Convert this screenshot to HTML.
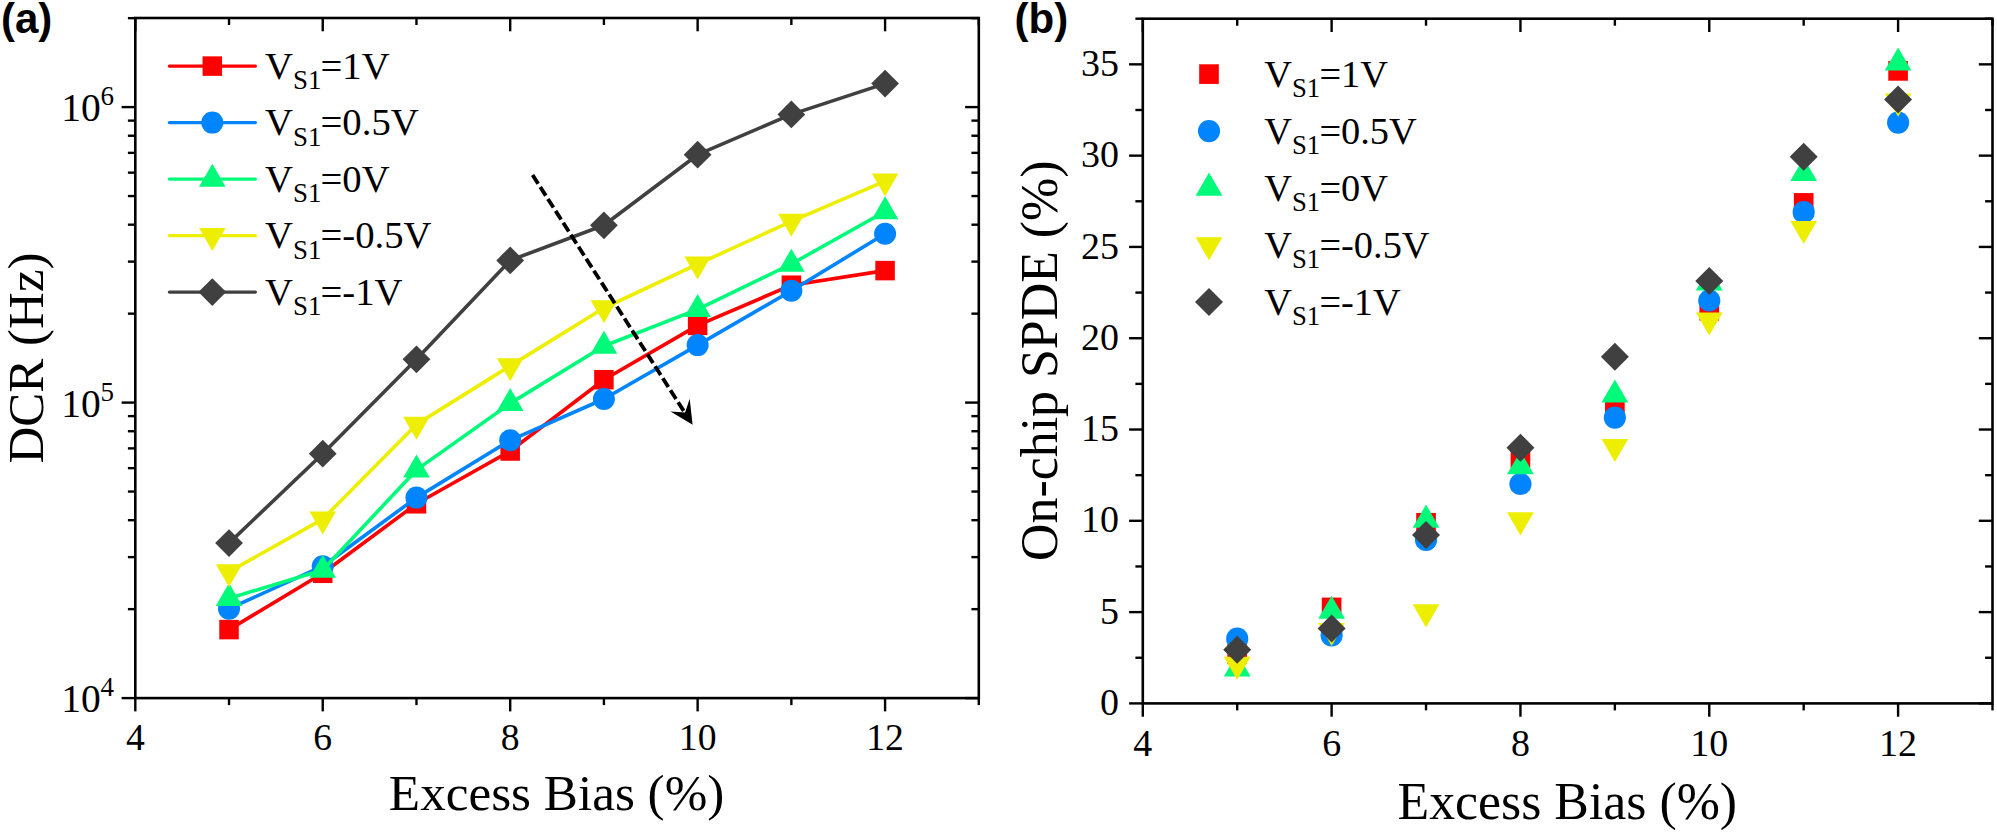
<!DOCTYPE html>
<html lang="en"><head><meta charset="utf-8"><title>DCR and SPDE vs Excess Bias</title>
<style>html,body{margin:0;padding:0;background:#fff;}svg{display:block;}</style></head>
<body>
<svg width="1997" height="834" viewBox="0 0 1997 834">
<rect width="1997" height="834" fill="#fff"/>
<polyline points="229.02,629.60 322.74,573.30 416.47,503.80 510.19,451.00 603.91,379.70 697.63,325.40 791.36,285.20 885.08,270.60" fill="none" stroke="#ff0000" stroke-width="3.6" stroke-linejoin="round" stroke-linecap="round"/>
<rect x="219.27" y="619.85" width="19.50" height="19.50" fill="#ff0000"/>
<rect x="312.99" y="563.55" width="19.50" height="19.50" fill="#ff0000"/>
<rect x="406.72" y="494.05" width="19.50" height="19.50" fill="#ff0000"/>
<rect x="500.44" y="441.25" width="19.50" height="19.50" fill="#ff0000"/>
<rect x="594.16" y="369.95" width="19.50" height="19.50" fill="#ff0000"/>
<rect x="687.88" y="315.65" width="19.50" height="19.50" fill="#ff0000"/>
<rect x="781.61" y="275.45" width="19.50" height="19.50" fill="#ff0000"/>
<rect x="875.33" y="260.85" width="19.50" height="19.50" fill="#ff0000"/>
<polyline points="229.02,608.70 322.74,566.20 416.47,497.60 510.19,440.30 603.91,399.00 697.63,345.10 791.36,290.80 885.08,233.70" fill="none" stroke="#0085ff" stroke-width="3.6" stroke-linejoin="round" stroke-linecap="round"/>
<circle cx="229.02" cy="608.70" r="11.00" fill="#0085ff"/>
<circle cx="322.74" cy="566.20" r="11.00" fill="#0085ff"/>
<circle cx="416.47" cy="497.60" r="11.00" fill="#0085ff"/>
<circle cx="510.19" cy="440.30" r="11.00" fill="#0085ff"/>
<circle cx="603.91" cy="399.00" r="11.00" fill="#0085ff"/>
<circle cx="697.63" cy="345.10" r="11.00" fill="#0085ff"/>
<circle cx="791.36" cy="290.80" r="11.00" fill="#0085ff"/>
<circle cx="885.08" cy="233.70" r="11.00" fill="#0085ff"/>
<polyline points="229.02,598.40 322.74,570.00 416.47,469.90 510.19,403.40 603.91,346.00 697.63,309.40 791.36,264.00 885.08,211.50" fill="none" stroke="#00fa7a" stroke-width="3.6" stroke-linejoin="round" stroke-linecap="round"/>
<polygon points="229.02,583.10 242.32,606.05 215.72,606.05" fill="#00fa7a"/>
<polygon points="322.74,554.70 336.04,577.65 309.44,577.65" fill="#00fa7a"/>
<polygon points="416.47,454.60 429.77,477.55 403.17,477.55" fill="#00fa7a"/>
<polygon points="510.19,388.10 523.49,411.05 496.89,411.05" fill="#00fa7a"/>
<polygon points="603.91,330.70 617.21,353.65 590.61,353.65" fill="#00fa7a"/>
<polygon points="697.63,294.10 710.93,317.05 684.33,317.05" fill="#00fa7a"/>
<polygon points="791.36,248.70 804.66,271.65 778.06,271.65" fill="#00fa7a"/>
<polygon points="885.08,196.20 898.38,219.15 871.78,219.15" fill="#00fa7a"/>
<polyline points="229.02,571.80 322.74,519.10 416.47,424.40 510.19,365.90 603.91,308.00 697.63,264.20 791.36,221.40 885.08,181.10" fill="none" stroke="#eeee00" stroke-width="3.6" stroke-linejoin="round" stroke-linecap="round"/>
<polygon points="229.02,587.10 242.32,564.15 215.72,564.15" fill="#eeee00"/>
<polygon points="322.74,534.40 336.04,511.45 309.44,511.45" fill="#eeee00"/>
<polygon points="416.47,439.70 429.77,416.75 403.17,416.75" fill="#eeee00"/>
<polygon points="510.19,381.20 523.49,358.25 496.89,358.25" fill="#eeee00"/>
<polygon points="603.91,323.30 617.21,300.35 590.61,300.35" fill="#eeee00"/>
<polygon points="697.63,279.50 710.93,256.55 684.33,256.55" fill="#eeee00"/>
<polygon points="791.36,236.70 804.66,213.75 778.06,213.75" fill="#eeee00"/>
<polygon points="885.08,196.40 898.38,173.45 871.78,173.45" fill="#eeee00"/>
<polyline points="229.02,543.10 322.74,453.70 416.47,359.30 510.19,260.40 603.91,225.30 697.63,154.70 791.36,114.40 885.08,83.60" fill="none" stroke="#404040" stroke-width="3.6" stroke-linejoin="round" stroke-linecap="round"/>
<polygon points="229.02,529.20 242.92,543.10 229.02,557.00 215.12,543.10" fill="#404040"/>
<polygon points="322.74,439.80 336.64,453.70 322.74,467.60 308.84,453.70" fill="#404040"/>
<polygon points="416.47,345.40 430.37,359.30 416.47,373.20 402.57,359.30" fill="#404040"/>
<polygon points="510.19,246.50 524.09,260.40 510.19,274.30 496.29,260.40" fill="#404040"/>
<polygon points="603.91,211.40 617.81,225.30 603.91,239.20 590.01,225.30" fill="#404040"/>
<polygon points="697.63,140.80 711.53,154.70 697.63,168.60 683.73,154.70" fill="#404040"/>
<polygon points="791.36,100.50 805.26,114.40 791.36,128.30 777.46,114.40" fill="#404040"/>
<polygon points="885.08,69.70 898.98,83.60 885.08,97.50 871.18,83.60" fill="#404040"/>
<rect x="135.30" y="18.00" width="843.50" height="680.10" fill="none" stroke="#000" stroke-width="2.6"/>
<line x1="135.30" y1="698.10" x2="135.30" y2="711.40" stroke="#000" stroke-width="2.4" />
<line x1="135.30" y1="18.00" x2="135.30" y2="31.30" stroke="#000" stroke-width="2.4" />
<line x1="229.02" y1="698.10" x2="229.02" y2="705.10" stroke="#000" stroke-width="2.4" />
<line x1="229.02" y1="18.00" x2="229.02" y2="25.00" stroke="#000" stroke-width="2.4" />
<line x1="322.74" y1="698.10" x2="322.74" y2="711.40" stroke="#000" stroke-width="2.4" />
<line x1="322.74" y1="18.00" x2="322.74" y2="31.30" stroke="#000" stroke-width="2.4" />
<line x1="416.47" y1="698.10" x2="416.47" y2="705.10" stroke="#000" stroke-width="2.4" />
<line x1="416.47" y1="18.00" x2="416.47" y2="25.00" stroke="#000" stroke-width="2.4" />
<line x1="510.19" y1="698.10" x2="510.19" y2="711.40" stroke="#000" stroke-width="2.4" />
<line x1="510.19" y1="18.00" x2="510.19" y2="31.30" stroke="#000" stroke-width="2.4" />
<line x1="603.91" y1="698.10" x2="603.91" y2="705.10" stroke="#000" stroke-width="2.4" />
<line x1="603.91" y1="18.00" x2="603.91" y2="25.00" stroke="#000" stroke-width="2.4" />
<line x1="697.63" y1="698.10" x2="697.63" y2="711.40" stroke="#000" stroke-width="2.4" />
<line x1="697.63" y1="18.00" x2="697.63" y2="31.30" stroke="#000" stroke-width="2.4" />
<line x1="791.36" y1="698.10" x2="791.36" y2="705.10" stroke="#000" stroke-width="2.4" />
<line x1="791.36" y1="18.00" x2="791.36" y2="25.00" stroke="#000" stroke-width="2.4" />
<line x1="885.08" y1="698.10" x2="885.08" y2="711.40" stroke="#000" stroke-width="2.4" />
<line x1="885.08" y1="18.00" x2="885.08" y2="31.30" stroke="#000" stroke-width="2.4" />
<line x1="978.80" y1="698.10" x2="978.80" y2="705.10" stroke="#000" stroke-width="2.4" />
<line x1="978.80" y1="18.00" x2="978.80" y2="25.00" stroke="#000" stroke-width="2.4" />
<line x1="135.30" y1="698.10" x2="121.60" y2="698.10" stroke="#000" stroke-width="2.4" />
<line x1="978.80" y1="698.10" x2="965.10" y2="698.10" stroke="#000" stroke-width="2.4" />
<line x1="135.30" y1="609.15" x2="127.90" y2="609.15" stroke="#000" stroke-width="2.4" />
<line x1="978.80" y1="609.15" x2="971.40" y2="609.15" stroke="#000" stroke-width="2.4" />
<line x1="135.30" y1="557.11" x2="127.90" y2="557.11" stroke="#000" stroke-width="2.4" />
<line x1="978.80" y1="557.11" x2="971.40" y2="557.11" stroke="#000" stroke-width="2.4" />
<line x1="135.30" y1="520.19" x2="127.90" y2="520.19" stroke="#000" stroke-width="2.4" />
<line x1="978.80" y1="520.19" x2="971.40" y2="520.19" stroke="#000" stroke-width="2.4" />
<line x1="135.30" y1="491.55" x2="127.90" y2="491.55" stroke="#000" stroke-width="2.4" />
<line x1="978.80" y1="491.55" x2="971.40" y2="491.55" stroke="#000" stroke-width="2.4" />
<line x1="135.30" y1="468.16" x2="127.90" y2="468.16" stroke="#000" stroke-width="2.4" />
<line x1="978.80" y1="468.16" x2="971.40" y2="468.16" stroke="#000" stroke-width="2.4" />
<line x1="135.30" y1="448.37" x2="127.90" y2="448.37" stroke="#000" stroke-width="2.4" />
<line x1="978.80" y1="448.37" x2="971.40" y2="448.37" stroke="#000" stroke-width="2.4" />
<line x1="135.30" y1="431.24" x2="127.90" y2="431.24" stroke="#000" stroke-width="2.4" />
<line x1="978.80" y1="431.24" x2="971.40" y2="431.24" stroke="#000" stroke-width="2.4" />
<line x1="135.30" y1="416.12" x2="127.90" y2="416.12" stroke="#000" stroke-width="2.4" />
<line x1="978.80" y1="416.12" x2="971.40" y2="416.12" stroke="#000" stroke-width="2.4" />
<line x1="135.30" y1="402.60" x2="121.60" y2="402.60" stroke="#000" stroke-width="2.4" />
<line x1="978.80" y1="402.60" x2="965.10" y2="402.60" stroke="#000" stroke-width="2.4" />
<line x1="135.30" y1="313.65" x2="127.90" y2="313.65" stroke="#000" stroke-width="2.4" />
<line x1="978.80" y1="313.65" x2="971.40" y2="313.65" stroke="#000" stroke-width="2.4" />
<line x1="135.30" y1="261.61" x2="127.90" y2="261.61" stroke="#000" stroke-width="2.4" />
<line x1="978.80" y1="261.61" x2="971.40" y2="261.61" stroke="#000" stroke-width="2.4" />
<line x1="135.30" y1="224.69" x2="127.90" y2="224.69" stroke="#000" stroke-width="2.4" />
<line x1="978.80" y1="224.69" x2="971.40" y2="224.69" stroke="#000" stroke-width="2.4" />
<line x1="135.30" y1="196.05" x2="127.90" y2="196.05" stroke="#000" stroke-width="2.4" />
<line x1="978.80" y1="196.05" x2="971.40" y2="196.05" stroke="#000" stroke-width="2.4" />
<line x1="135.30" y1="172.66" x2="127.90" y2="172.66" stroke="#000" stroke-width="2.4" />
<line x1="978.80" y1="172.66" x2="971.40" y2="172.66" stroke="#000" stroke-width="2.4" />
<line x1="135.30" y1="152.87" x2="127.90" y2="152.87" stroke="#000" stroke-width="2.4" />
<line x1="978.80" y1="152.87" x2="971.40" y2="152.87" stroke="#000" stroke-width="2.4" />
<line x1="135.30" y1="135.74" x2="127.90" y2="135.74" stroke="#000" stroke-width="2.4" />
<line x1="978.80" y1="135.74" x2="971.40" y2="135.74" stroke="#000" stroke-width="2.4" />
<line x1="135.30" y1="120.62" x2="127.90" y2="120.62" stroke="#000" stroke-width="2.4" />
<line x1="978.80" y1="120.62" x2="971.40" y2="120.62" stroke="#000" stroke-width="2.4" />
<line x1="135.30" y1="107.10" x2="121.60" y2="107.10" stroke="#000" stroke-width="2.4" />
<line x1="978.80" y1="107.10" x2="965.10" y2="107.10" stroke="#000" stroke-width="2.4" />
<line x1="135.30" y1="18.15" x2="127.90" y2="18.15" stroke="#000" stroke-width="2.4" />
<line x1="978.80" y1="18.15" x2="971.40" y2="18.15" stroke="#000" stroke-width="2.4" />
<text x="135.30" y="750.1" text-anchor="middle" font-family="'Liberation Serif','Times New Roman',serif" font-size="37.7" fill="#000">4</text>
<text x="322.74" y="750.1" text-anchor="middle" font-family="'Liberation Serif','Times New Roman',serif" font-size="37.7" fill="#000">6</text>
<text x="510.19" y="750.1" text-anchor="middle" font-family="'Liberation Serif','Times New Roman',serif" font-size="37.7" fill="#000">8</text>
<text x="697.63" y="750.1" text-anchor="middle" font-family="'Liberation Serif','Times New Roman',serif" font-size="37.7" fill="#000">10</text>
<text x="885.08" y="750.1" text-anchor="middle" font-family="'Liberation Serif','Times New Roman',serif" font-size="37.7" fill="#000">12</text>
<text x="61.2" y="712.40" font-family="'Liberation Serif','Times New Roman',serif" font-size="39.5" fill="#000">10<tspan font-size="27" dx="-0.2" dy="-16">4</tspan></text>
<text x="61.2" y="416.90" font-family="'Liberation Serif','Times New Roman',serif" font-size="39.5" fill="#000">10<tspan font-size="27" dx="-0.2" dy="-16">5</tspan></text>
<text x="61.2" y="121.40" font-family="'Liberation Serif','Times New Roman',serif" font-size="39.5" fill="#000">10<tspan font-size="27" dx="-0.2" dy="-16">6</tspan></text>
<text x="556.6" y="810.3" text-anchor="middle" font-family="'Liberation Serif','Times New Roman',serif" font-size="51.2" fill="#000">Excess Bias (%)</text>
<text transform="translate(43,358) rotate(-90)" text-anchor="middle" font-family="'Liberation Serif','Times New Roman',serif" font-size="51" fill="#000">DCR (Hz)</text>
<text x="1.0" y="33.4" font-family="'Liberation Sans',Arial,sans-serif" font-weight="bold" font-size="42" fill="#000">(a)</text>
<line x1="169.4" y1="66.10" x2="255.4" y2="66.10" stroke="#ff0000" stroke-width="3.3" stroke-linecap="round"/>
<rect x="202.55" y="56.35" width="19.50" height="19.50" fill="#ff0000"/>
<text x="265.00" y="78.90" font-family="'Liberation Serif','Times New Roman',serif" font-size="38.7" fill="#000">V<tspan font-size="26.90" dy="10.37">S1</tspan><tspan dy="-10.37" dx="-0.8">=1V</tspan></text>
<line x1="169.4" y1="122.60" x2="255.4" y2="122.60" stroke="#0085ff" stroke-width="3.3" stroke-linecap="round"/>
<circle cx="212.30" cy="122.60" r="11.00" fill="#0085ff"/>
<text x="265.00" y="135.40" font-family="'Liberation Serif','Times New Roman',serif" font-size="38.7" fill="#000">V<tspan font-size="26.90" dy="10.37">S1</tspan><tspan dy="-10.37" dx="-0.8">=0.5V</tspan></text>
<line x1="169.4" y1="179.10" x2="255.4" y2="179.10" stroke="#00fa7a" stroke-width="3.3" stroke-linecap="round"/>
<polygon points="212.30,163.80 225.60,186.75 199.00,186.75" fill="#00fa7a"/>
<text x="265.00" y="191.90" font-family="'Liberation Serif','Times New Roman',serif" font-size="38.7" fill="#000">V<tspan font-size="26.90" dy="10.37">S1</tspan><tspan dy="-10.37" dx="-0.8">=0V</tspan></text>
<line x1="169.4" y1="235.60" x2="255.4" y2="235.60" stroke="#eeee00" stroke-width="3.3" stroke-linecap="round"/>
<polygon points="212.30,250.90 225.60,227.95 199.00,227.95" fill="#eeee00"/>
<text x="265.00" y="248.40" font-family="'Liberation Serif','Times New Roman',serif" font-size="38.7" fill="#000">V<tspan font-size="26.90" dy="10.37">S1</tspan><tspan dy="-10.37" dx="-0.8">=-0.5V</tspan></text>
<line x1="169.4" y1="292.10" x2="255.4" y2="292.10" stroke="#404040" stroke-width="3.3" stroke-linecap="round"/>
<polygon points="212.30,278.20 226.20,292.10 212.30,306.00 198.40,292.10" fill="#404040"/>
<text x="265.00" y="304.90" font-family="'Liberation Serif','Times New Roman',serif" font-size="38.7" fill="#000">V<tspan font-size="26.90" dy="10.37">S1</tspan><tspan dy="-10.37" dx="-0.8">=-1V</tspan></text>
<line x1="532.6" y1="175.0" x2="684.6" y2="412.3" stroke="#000" stroke-width="3.8" stroke-dasharray="10.3 3.9"/>
<polygon points="692.6,424.7 670.5,411.5 685.1,412.6 689.7,398.8" fill="#000"/>
<rect x="1227.39" y="644.18" width="19.64" height="19.64" fill="#ff0000"/>
<rect x="1321.80" y="597.58" width="19.64" height="19.64" fill="#ff0000"/>
<rect x="1416.22" y="512.98" width="19.64" height="19.64" fill="#ff0000"/>
<rect x="1510.63" y="448.18" width="19.64" height="19.64" fill="#ff0000"/>
<rect x="1605.04" y="396.68" width="19.64" height="19.64" fill="#ff0000"/>
<rect x="1699.45" y="300.98" width="19.64" height="19.64" fill="#ff0000"/>
<rect x="1793.86" y="193.08" width="19.64" height="19.64" fill="#ff0000"/>
<rect x="1888.27" y="61.08" width="19.64" height="19.64" fill="#ff0000"/>
<circle cx="1237.21" cy="638.70" r="11.08" fill="#0085ff"/>
<circle cx="1331.62" cy="635.30" r="11.08" fill="#0085ff"/>
<circle cx="1426.03" cy="540.00" r="11.08" fill="#0085ff"/>
<circle cx="1520.44" cy="484.00" r="11.08" fill="#0085ff"/>
<circle cx="1614.86" cy="417.60" r="11.08" fill="#0085ff"/>
<circle cx="1709.27" cy="300.50" r="11.08" fill="#0085ff"/>
<circle cx="1803.68" cy="212.20" r="11.08" fill="#0085ff"/>
<circle cx="1898.09" cy="122.60" r="11.08" fill="#0085ff"/>
<polygon points="1237.21,653.29 1250.60,676.40 1223.82,676.40" fill="#00fa7a"/>
<polygon points="1331.62,595.69 1345.02,618.80 1318.23,618.80" fill="#00fa7a"/>
<polygon points="1426.03,504.59 1439.43,527.70 1412.64,527.70" fill="#00fa7a"/>
<polygon points="1520.44,451.19 1533.84,474.30 1507.05,474.30" fill="#00fa7a"/>
<polygon points="1614.86,379.49 1628.25,402.60 1601.46,402.60" fill="#00fa7a"/>
<polygon points="1709.27,267.39 1722.66,290.50 1695.87,290.50" fill="#00fa7a"/>
<polygon points="1803.68,157.89 1817.07,181.00 1790.28,181.00" fill="#00fa7a"/>
<polygon points="1898.09,47.49 1911.48,70.60 1884.70,70.60" fill="#00fa7a"/>
<polygon points="1237.21,679.91 1250.60,656.80 1223.82,656.80" fill="#eeee00"/>
<polygon points="1331.62,646.11 1345.02,623.00 1318.23,623.00" fill="#eeee00"/>
<polygon points="1426.03,627.41 1439.43,604.30 1412.64,604.30" fill="#eeee00"/>
<polygon points="1520.44,535.41 1533.84,512.30 1507.05,512.30" fill="#eeee00"/>
<polygon points="1614.86,462.01 1628.25,438.90 1601.46,438.90" fill="#eeee00"/>
<polygon points="1709.27,335.61 1722.66,312.50 1695.87,312.50" fill="#eeee00"/>
<polygon points="1803.68,244.01 1817.07,220.90 1790.28,220.90" fill="#eeee00"/>
<polygon points="1898.09,116.71 1911.48,93.60 1884.70,93.60" fill="#eeee00"/>
<polygon points="1237.21,635.80 1251.21,649.80 1237.21,663.80 1223.21,649.80" fill="#404040"/>
<polygon points="1331.62,614.60 1345.62,628.60 1331.62,642.60 1317.62,628.60" fill="#404040"/>
<polygon points="1426.03,520.90 1440.03,534.90 1426.03,548.90 1412.04,534.90" fill="#404040"/>
<polygon points="1520.44,433.70 1534.44,447.70 1520.44,461.70 1506.45,447.70" fill="#404040"/>
<polygon points="1614.86,342.70 1628.85,356.70 1614.86,370.70 1600.86,356.70" fill="#404040"/>
<polygon points="1709.27,267.00 1723.26,281.00 1709.27,295.00 1695.27,281.00" fill="#404040"/>
<polygon points="1803.68,142.80 1817.68,156.80 1803.68,170.80 1789.68,156.80" fill="#404040"/>
<polygon points="1898.09,85.40 1912.09,99.40 1898.09,113.40 1884.09,99.40" fill="#404040"/>
<rect x="1142.80" y="18.70" width="849.70" height="684.70" fill="none" stroke="#000" stroke-width="2.6"/>
<line x1="1142.80" y1="703.40" x2="1142.80" y2="716.70" stroke="#000" stroke-width="2.4" />
<line x1="1142.80" y1="18.70" x2="1142.80" y2="32.00" stroke="#000" stroke-width="2.4" />
<line x1="1237.21" y1="703.40" x2="1237.21" y2="710.40" stroke="#000" stroke-width="2.4" />
<line x1="1237.21" y1="18.70" x2="1237.21" y2="25.70" stroke="#000" stroke-width="2.4" />
<line x1="1331.62" y1="703.40" x2="1331.62" y2="716.70" stroke="#000" stroke-width="2.4" />
<line x1="1331.62" y1="18.70" x2="1331.62" y2="32.00" stroke="#000" stroke-width="2.4" />
<line x1="1426.03" y1="703.40" x2="1426.03" y2="710.40" stroke="#000" stroke-width="2.4" />
<line x1="1426.03" y1="18.70" x2="1426.03" y2="25.70" stroke="#000" stroke-width="2.4" />
<line x1="1520.44" y1="703.40" x2="1520.44" y2="716.70" stroke="#000" stroke-width="2.4" />
<line x1="1520.44" y1="18.70" x2="1520.44" y2="32.00" stroke="#000" stroke-width="2.4" />
<line x1="1614.86" y1="703.40" x2="1614.86" y2="710.40" stroke="#000" stroke-width="2.4" />
<line x1="1614.86" y1="18.70" x2="1614.86" y2="25.70" stroke="#000" stroke-width="2.4" />
<line x1="1709.27" y1="703.40" x2="1709.27" y2="716.70" stroke="#000" stroke-width="2.4" />
<line x1="1709.27" y1="18.70" x2="1709.27" y2="32.00" stroke="#000" stroke-width="2.4" />
<line x1="1803.68" y1="703.40" x2="1803.68" y2="710.40" stroke="#000" stroke-width="2.4" />
<line x1="1803.68" y1="18.70" x2="1803.68" y2="25.70" stroke="#000" stroke-width="2.4" />
<line x1="1898.09" y1="703.40" x2="1898.09" y2="716.70" stroke="#000" stroke-width="2.4" />
<line x1="1898.09" y1="18.70" x2="1898.09" y2="32.00" stroke="#000" stroke-width="2.4" />
<line x1="1992.50" y1="703.40" x2="1992.50" y2="710.40" stroke="#000" stroke-width="2.4" />
<line x1="1992.50" y1="18.70" x2="1992.50" y2="25.70" stroke="#000" stroke-width="2.4" />
<line x1="1142.80" y1="703.40" x2="1129.10" y2="703.40" stroke="#000" stroke-width="2.4" />
<line x1="1992.50" y1="703.40" x2="1978.80" y2="703.40" stroke="#000" stroke-width="2.4" />
<text x="1119" y="715.00" text-anchor="end" font-family="'Liberation Serif','Times New Roman',serif" font-size="37.96" fill="#000">0</text>
<line x1="1142.80" y1="657.75" x2="1135.40" y2="657.75" stroke="#000" stroke-width="2.4" />
<line x1="1992.50" y1="657.75" x2="1985.10" y2="657.75" stroke="#000" stroke-width="2.4" />
<line x1="1142.80" y1="612.11" x2="1129.10" y2="612.11" stroke="#000" stroke-width="2.4" />
<line x1="1992.50" y1="612.11" x2="1978.80" y2="612.11" stroke="#000" stroke-width="2.4" />
<text x="1119" y="623.71" text-anchor="end" font-family="'Liberation Serif','Times New Roman',serif" font-size="37.96" fill="#000">5</text>
<line x1="1142.80" y1="566.46" x2="1135.40" y2="566.46" stroke="#000" stroke-width="2.4" />
<line x1="1992.50" y1="566.46" x2="1985.10" y2="566.46" stroke="#000" stroke-width="2.4" />
<line x1="1142.80" y1="520.81" x2="1129.10" y2="520.81" stroke="#000" stroke-width="2.4" />
<line x1="1992.50" y1="520.81" x2="1978.80" y2="520.81" stroke="#000" stroke-width="2.4" />
<text x="1119" y="532.41" text-anchor="end" font-family="'Liberation Serif','Times New Roman',serif" font-size="37.96" fill="#000">10</text>
<line x1="1142.80" y1="475.17" x2="1135.40" y2="475.17" stroke="#000" stroke-width="2.4" />
<line x1="1992.50" y1="475.17" x2="1985.10" y2="475.17" stroke="#000" stroke-width="2.4" />
<line x1="1142.80" y1="429.52" x2="1129.10" y2="429.52" stroke="#000" stroke-width="2.4" />
<line x1="1992.50" y1="429.52" x2="1978.80" y2="429.52" stroke="#000" stroke-width="2.4" />
<text x="1119" y="441.12" text-anchor="end" font-family="'Liberation Serif','Times New Roman',serif" font-size="37.96" fill="#000">15</text>
<line x1="1142.80" y1="383.87" x2="1135.40" y2="383.87" stroke="#000" stroke-width="2.4" />
<line x1="1992.50" y1="383.87" x2="1985.10" y2="383.87" stroke="#000" stroke-width="2.4" />
<line x1="1142.80" y1="338.23" x2="1129.10" y2="338.23" stroke="#000" stroke-width="2.4" />
<line x1="1992.50" y1="338.23" x2="1978.80" y2="338.23" stroke="#000" stroke-width="2.4" />
<text x="1119" y="349.83" text-anchor="end" font-family="'Liberation Serif','Times New Roman',serif" font-size="37.96" fill="#000">20</text>
<line x1="1142.80" y1="292.58" x2="1135.40" y2="292.58" stroke="#000" stroke-width="2.4" />
<line x1="1992.50" y1="292.58" x2="1985.10" y2="292.58" stroke="#000" stroke-width="2.4" />
<line x1="1142.80" y1="246.93" x2="1129.10" y2="246.93" stroke="#000" stroke-width="2.4" />
<line x1="1992.50" y1="246.93" x2="1978.80" y2="246.93" stroke="#000" stroke-width="2.4" />
<text x="1119" y="258.53" text-anchor="end" font-family="'Liberation Serif','Times New Roman',serif" font-size="37.96" fill="#000">25</text>
<line x1="1142.80" y1="201.29" x2="1135.40" y2="201.29" stroke="#000" stroke-width="2.4" />
<line x1="1992.50" y1="201.29" x2="1985.10" y2="201.29" stroke="#000" stroke-width="2.4" />
<line x1="1142.80" y1="155.64" x2="1129.10" y2="155.64" stroke="#000" stroke-width="2.4" />
<line x1="1992.50" y1="155.64" x2="1978.80" y2="155.64" stroke="#000" stroke-width="2.4" />
<text x="1119" y="167.24" text-anchor="end" font-family="'Liberation Serif','Times New Roman',serif" font-size="37.96" fill="#000">30</text>
<line x1="1142.80" y1="109.99" x2="1135.40" y2="109.99" stroke="#000" stroke-width="2.4" />
<line x1="1992.50" y1="109.99" x2="1985.10" y2="109.99" stroke="#000" stroke-width="2.4" />
<line x1="1142.80" y1="64.35" x2="1129.10" y2="64.35" stroke="#000" stroke-width="2.4" />
<line x1="1992.50" y1="64.35" x2="1978.80" y2="64.35" stroke="#000" stroke-width="2.4" />
<text x="1119" y="75.95" text-anchor="end" font-family="'Liberation Serif','Times New Roman',serif" font-size="37.96" fill="#000">35</text>
<line x1="1142.80" y1="18.70" x2="1135.40" y2="18.70" stroke="#000" stroke-width="2.4" />
<line x1="1992.50" y1="18.70" x2="1985.10" y2="18.70" stroke="#000" stroke-width="2.4" />
<text x="1142.80" y="756.2" text-anchor="middle" font-family="'Liberation Serif','Times New Roman',serif" font-size="37.96" fill="#000">4</text>
<text x="1331.62" y="756.2" text-anchor="middle" font-family="'Liberation Serif','Times New Roman',serif" font-size="37.96" fill="#000">6</text>
<text x="1520.44" y="756.2" text-anchor="middle" font-family="'Liberation Serif','Times New Roman',serif" font-size="37.96" fill="#000">8</text>
<text x="1709.27" y="756.2" text-anchor="middle" font-family="'Liberation Serif','Times New Roman',serif" font-size="37.96" fill="#000">10</text>
<text x="1898.09" y="756.2" text-anchor="middle" font-family="'Liberation Serif','Times New Roman',serif" font-size="37.96" fill="#000">12</text>
<text x="1567.3" y="819" text-anchor="middle" font-family="'Liberation Serif','Times New Roman',serif" font-size="51.8" fill="#000">Excess Bias (%)</text>
<text transform="translate(1057.3,360.7) rotate(-90)" text-anchor="middle" font-family="'Liberation Serif','Times New Roman',serif" font-size="51.9" fill="#000">On-chip SPDE (%)</text>
<text x="1014.6" y="33.2" font-family="'Liberation Sans',Arial,sans-serif" font-weight="bold" font-size="42" fill="#000">(b)</text>
<rect x="1199.18" y="64.28" width="19.64" height="19.64" fill="#ff0000"/>
<text x="1264.30" y="86.90" font-family="'Liberation Serif','Times New Roman',serif" font-size="38.4" fill="#000">V<tspan font-size="26.69" dy="10.29">S1</tspan><tspan dy="-10.29" dx="-0.8">=1V</tspan></text>
<circle cx="1209.00" cy="131.05" r="11.08" fill="#0085ff"/>
<text x="1264.30" y="143.85" font-family="'Liberation Serif','Times New Roman',serif" font-size="38.4" fill="#000">V<tspan font-size="26.69" dy="10.29">S1</tspan><tspan dy="-10.29" dx="-0.8">=0.5V</tspan></text>
<polygon points="1209.00,172.59 1222.39,195.70 1195.61,195.70" fill="#00fa7a"/>
<text x="1264.30" y="200.80" font-family="'Liberation Serif','Times New Roman',serif" font-size="38.4" fill="#000">V<tspan font-size="26.69" dy="10.29">S1</tspan><tspan dy="-10.29" dx="-0.8">=0V</tspan></text>
<polygon points="1209.00,260.36 1222.39,237.25 1195.61,237.25" fill="#eeee00"/>
<text x="1264.30" y="257.75" font-family="'Liberation Serif','Times New Roman',serif" font-size="38.4" fill="#000">V<tspan font-size="26.69" dy="10.29">S1</tspan><tspan dy="-10.29" dx="-0.8">=-0.5V</tspan></text>
<polygon points="1209.00,287.90 1223.00,301.90 1209.00,315.90 1195.00,301.90" fill="#404040"/>
<text x="1264.30" y="314.70" font-family="'Liberation Serif','Times New Roman',serif" font-size="38.4" fill="#000">V<tspan font-size="26.69" dy="10.29">S1</tspan><tspan dy="-10.29" dx="-0.8">=-1V</tspan></text>
</svg>
</body></html>
